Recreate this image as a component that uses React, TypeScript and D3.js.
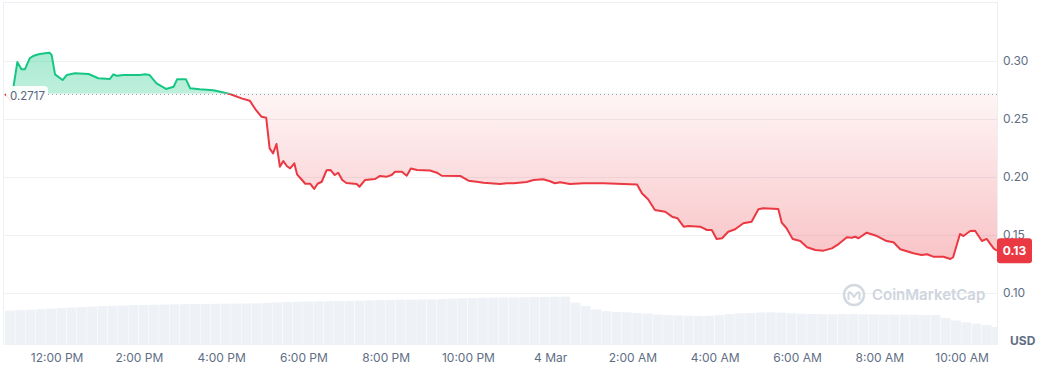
import React from "react";
import * as d3 from "d3";

// minutes after 3 Mar 10:44
const priceMinutes = [
  0, 9, 18, 24, 29, 36, 41, 49, 58, 65, 68, 73, 84, 90, 102, 122, 136, 153, 158, 163,
  173, 197, 204, 211, 221, 235, 246, 251, 264, 270, 284, 304, 314, 328, 345, 357, 365, 374, 381, 386,
  391, 396, 401, 406, 411, 416, 422, 426, 431, 438, 445, 451, 456, 462, 469, 475, 481, 486, 492, 498,
  513, 517, 525, 540, 547, 557, 564, 569, 579, 586, 592, 601, 620, 630, 637, 664, 676, 688, 698, 708,
  722, 732, 742, 761, 771, 785, 795, 802, 810, 824, 844, 873, 902, 922, 929, 938, 948, 963, 973, 981,
  990, 997, 1014, 1024, 1031, 1038, 1046, 1055, 1065, 1077, 1089, 1099, 1106, 1128, 1133, 1140, 1149, 1160, 1170, 1182,
  1194, 1206, 1216, 1228, 1235, 1240, 1245, 1257, 1272, 1286, 1296, 1306, 1325, 1337, 1345, 1354, 1369, 1379, 1383, 1393,
  1398, 1408, 1415, 1425, 1432, 1442, 1447,
];
const priceValues = [
  0.2716, 0.2651, 0.2991, 0.2928, 0.2928, 0.3023, 0.3043, 0.3058, 0.3066, 0.3072, 0.3052, 0.2885, 0.2836, 0.2879, 0.2894, 0.2888, 0.2851, 0.2845, 0.2885, 0.2873,
  0.2879, 0.2879, 0.2885, 0.2879, 0.2808, 0.2759, 0.2778, 0.2842, 0.2842, 0.2765, 0.2756, 0.2747, 0.2735, 0.2716, 0.2678, 0.2658, 0.2586, 0.252, 0.2511, 0.2247,
  0.2204, 0.2284, 0.2089, 0.2138, 0.2095, 0.2075, 0.2118, 0.2023, 0.1989, 0.1942, 0.1942, 0.1897, 0.1942, 0.1959, 0.2058, 0.206, 0.2017, 0.2037, 0.1974, 0.1948,
  0.194, 0.1916, 0.1974, 0.1983, 0.2009, 0.2003, 0.2017, 0.2046, 0.2046, 0.2011, 0.2073, 0.206, 0.2056, 0.2037, 0.2011, 0.2009, 0.1968, 0.1959, 0.1951, 0.1946,
  0.194, 0.1946, 0.1946, 0.1957, 0.1974, 0.198, 0.1963, 0.1946, 0.1954, 0.194, 0.1946, 0.1946, 0.194, 0.1935, 0.186, 0.1808, 0.1716, 0.1701, 0.1658, 0.1644,
  0.1572, 0.1578, 0.1572, 0.1543, 0.1543, 0.1466, 0.1472, 0.1528, 0.1549, 0.1601, 0.1615, 0.1722, 0.173, 0.1724, 0.1606, 0.1558, 0.1466, 0.1448, 0.1394, 0.1371,
  0.1365, 0.1385, 0.1422, 0.148, 0.1477, 0.1485, 0.1472, 0.152, 0.1491, 0.1448, 0.1437, 0.1377, 0.1342, 0.1328, 0.1334, 0.1313, 0.1313, 0.1293, 0.1308, 0.1509,
  0.1491, 0.1534, 0.1537, 0.1448, 0.1466, 0.1385, 0.1365,
];
// 15-minute volume (M USD), starting 3 Mar 10:44
const volumeValues = [
  34.3, 34.8, 35.2, 35.8, 36.5, 37, 37.5, 38, 38.5, 39, 39.2, 39.5, 39.8, 40, 40.2, 40.4, 40.6, 40.8, 41, 41.1,
  41.2, 41.3, 41.4, 41.5, 41.7, 42.2, 42.6, 43, 43.3, 43.5, 43.7, 43.8, 43.9, 44, 44.3, 44.6, 44.9, 45.1, 45.3, 45.4,
  45.5, 45.6, 45.9, 46.3, 46.7, 47, 47.2, 47.4, 47.5, 47.6, 47.7, 47.8, 48, 48.2, 48.4, 42.5, 39, 35.7, 33.8, 33,
  32.6, 32, 31.5, 30.5, 30, 29.6, 29.3, 29.1, 29.2, 30, 31, 31.7, 32, 32.5, 32.7, 32.4, 31.7, 31.3, 31, 30.8,
  30.7, 30.8, 30.9, 30.7, 30.6, 30.5, 30.4, 30.3, 30.2, 30.1, 30, 27, 24.5, 22.6, 21.2, 20, 18,
];
const yTicks = [0.1, 0.15, 0.2, 0.25, 0.3];
const baselineValue = 0.2717;
const lastLabel = "0.13";

const W = 1042;
const H = 372;
const FONT = "Inter, 'Noto Sans', sans-serif";

export default function App() {
  const start = new Date(2024, 2, 3, 10, 44);
  const end = new Date(2024, 2, 4, 10, 51);
  const t = (m: number) => new Date(start.getTime() + m * 60000);
  const x = d3.scaleTime().domain([start, end]).range([5, 997]);
  const y = d3.scaleLinear().domain([0.1, 0.3]).range([293, 61]);
  const yv = d3.scaleLinear().domain([0, 60]).range([345, 285]);
  const yBase = y(baselineValue);

  const pts = priceMinutes.map((m, i) => ({ d: t(m), v: priceValues[i] }));
  const line = d3.line<any>().x((p) => x(p.d)).y((p) => y(p.v));
  const area = d3.area<any>().x((p) => x(p.d)).y0(yBase).y1((p) => y(p.v));
  const linePath = line(pts) || "";
  const areaPath = area(pts) || "";

  const ticks = d3.timeHour.every(2)!.range(new Date(2024, 2, 3, 12), end);
  const fmt = (d: Date) => (d.getHours() === 0 ? d3.timeFormat("%-d %b")(d) : d3.timeFormat("%-I:%M %p")(d));

  const last = pts[pts.length - 1];
  const lastY = y(last.v);

  return (
    <svg width={W} height={H} style={{ position: "absolute", left: 0, top: 0, fontFamily: FONT }}>
      <defs>
        <clipPath id="above">
          <rect x={0} y={0} width={997} height={yBase} />
        </clipPath>
        <clipPath id="below">
          <rect x={0} y={yBase} width={997} height={H - yBase} />
        </clipPath>
        <clipPath id="plot">
          <rect x={3} y={0} width={994} height={H} />
        </clipPath>
        <linearGradient id="gGreen" gradientUnits="userSpaceOnUse" x1={0} y1={y(0.307)} x2={0} y2={yBase}>
          <stop offset="0" stopColor="#16c784" stopOpacity={0.36} />
          <stop offset="1" stopColor="#16c784" stopOpacity={0.28} />
        </linearGradient>
        <linearGradient id="gRed" gradientUnits="userSpaceOnUse" x1={0} y1={yBase} x2={0} y2={y(0.129)}>
          <stop offset="0" stopColor="#ea3943" stopOpacity={0.05} />
          <stop offset="1" stopColor="#ea3943" stopOpacity={0.3} />
        </linearGradient>
      </defs>
      <rect x={0} y={0} width={W} height={H} fill="#ffffff" />
      {/* frame */}
      <line x1={3} x2={997} y1={2.5} y2={2.5} stroke="#eceff3" />
      <line x1={3.5} x2={3.5} y1={2} y2={345} stroke="#eceff3" />
      <line x1={997.5} x2={997.5} y1={2} y2={345} stroke="#eceff3" />
      {yTicks.map((v) => (
        <line key={v} x1={3} x2={997} y1={Math.round(y(v)) + 0.5} y2={Math.round(y(v)) + 0.5} stroke="#eff2f5" />
      ))}
      {/* volume */}
      <g clipPath="url(#plot)">
        {volumeValues.map((v, i) => {
          const x0 = x(t(i * 15));
          const x1 = x(t((i + 1) * 15));
          return <rect key={i} x={x0} y={yv(v)} width={Math.max(0, x1 - x0 - 0.5)} height={345 - yv(v)} fill="#eef1f5" />;
        })}
      </g>
      {/* watermark */}
      <g transform="translate(854,295)" opacity={0.9}>
        <circle r={10} fill="none" stroke="#cfd5de" strokeWidth={2.4} />
        <path d="M-5.5,4 L-5.5,-1 Q-5.5,-4 -3,-2 L0,2 L3,-2 Q5.5,-4 5.5,-1 L5.5,4" fill="none" stroke="#cfd5de" strokeWidth={2} strokeLinecap="round" strokeLinejoin="round" />
      </g>
      <text x={872} y={300} fontSize={15} fontWeight={600} fill="#cfd5de">
        CoinMarketCap
      </text>
      {/* fills */}
      <path d={areaPath} fill="url(#gGreen)" clipPath="url(#above)" />
      <path d={areaPath} fill="url(#gRed)" clipPath="url(#below)" />
      {/* baseline */}
      <line x1={48} x2={997} y1={Math.round(yBase) + 0.5} y2={Math.round(yBase) + 0.5} stroke="#9aa1ad" strokeDasharray="1,3" />
      {/* price line */}
      <path d={linePath} fill="none" stroke="#16c784" strokeWidth={2} strokeLinejoin="round" clipPath="url(#above)" />
      <path d={linePath} fill="none" stroke="#ea3943" strokeWidth={2} strokeLinejoin="round" clipPath="url(#below)" />
      {/* baseline label */}
      <rect x={6} y={86} width={42} height={18} rx={4} fill="#ffffff" opacity={0.92} />
      <text x={10} y={100} fontSize={11.5} fill="#58667e">
        {baselineValue.toFixed(4)}
      </text>
      {/* y axis */}
      {yTicks.map((v) => (
        <text key={v} x={1003} y={y(v) + 4} fontSize={12} fill="#616e85">
          {v.toFixed(2)}
        </text>
      ))}
      <text x={1010} y={345} fontSize={12} fontWeight={700} fill="#616e85">
        USD
      </text>
      {/* last price */}
      <rect x={997} y={lastY - 12.5} width={35} height={25} rx={3} fill="#ea3943" />
      <text x={1014.5} y={lastY + 4} fontSize={12} fontWeight={700} fill="#ffffff" textAnchor="middle">
        {lastLabel}
      </text>
      {/* x axis */}
      {ticks.map((d) => (
        <text key={d.getTime()} x={x(d)} y={362} fontSize={12} fill="#616e85" textAnchor="middle">
          {fmt(d)}
        </text>
      ))}
    </svg>
  );
}
